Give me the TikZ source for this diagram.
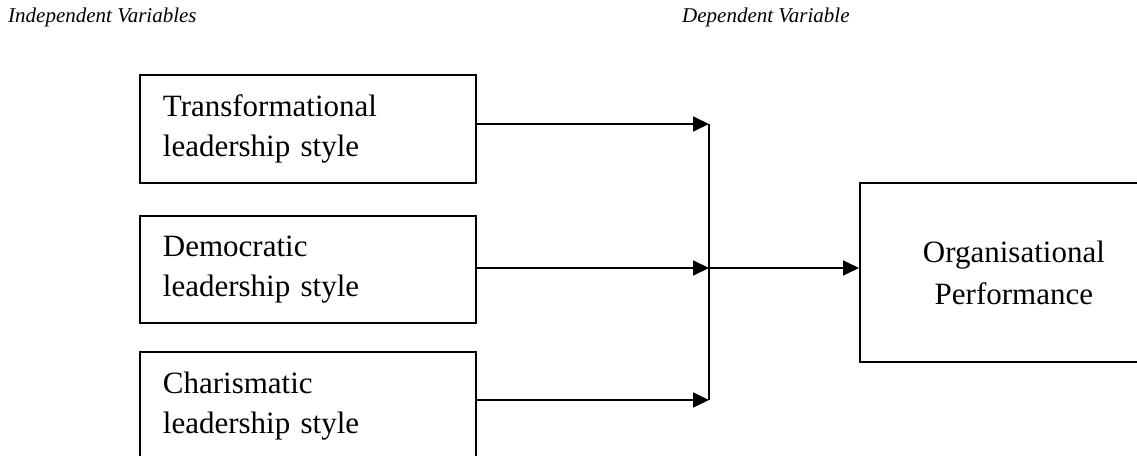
\documentclass[tikz,border=0pt]{standalone}
\usepackage{fontspec}
\setmainfont{Liberation Serif}
\usetikzlibrary{arrows.meta}
\begin{document}
\begin{tikzpicture}[x=1pt,y=-1pt,
  ivbox/.style={draw=black, line width=1.8pt, rectangle, anchor=north west,
    minimum width=336pt, minimum height=108pt, inner sep=0pt,
    text width=290pt, align=left,
    font=\fontsize{31}{40}\selectfont},
  dvbox/.style={draw=black, line width=1.8pt, rectangle, anchor=north west,
    minimum width=308pt, minimum height=179pt, inner sep=0pt,
    align=center, font=\fontsize{31}{42}\selectfont},
  head/.style={anchor=base west, inner sep=0pt, font=\fontsize{21}{25}\selectfont\itshape},
  arr/.style={line width=1.8pt, -{Triangle[length=16pt,width=15pt]}},
  bar/.style={line width=1.6pt}]
\useasboundingbox (0,0) rectangle (1137,455);
\clip (0,0) rectangle (1137,455);
\node[head] (hiv) at (8,23) {Independent Variables};
\node[head] (hdv) at (682,23) {Dependent Variable};
\node[ivbox] (b1) at (139,74) {Transformational\\leadership style};
\node[ivbox, minimum height=107pt] (b2) at (139,215) {Democratic\\leadership style};
\node[ivbox] (b3) at (139,351) {Charismatic\\leadership style};
\node[dvbox] (org) at (859,182) {Organisational\\Performance};
\coordinate (j1) at (709,124);
\coordinate (j2) at (709,268);
\coordinate (j3) at (709,400);
\draw[arr] (b1.east |- j1) -- (j1);
\draw[arr] (b2.east |- j2) -- (j2);
\draw[arr] (b3.east |- j3) -- (j3);
\draw[bar] (j1) -- (j3);
\draw[arr] (j2) -- (j2 -| org.west);
\end{tikzpicture}
\end{document}
